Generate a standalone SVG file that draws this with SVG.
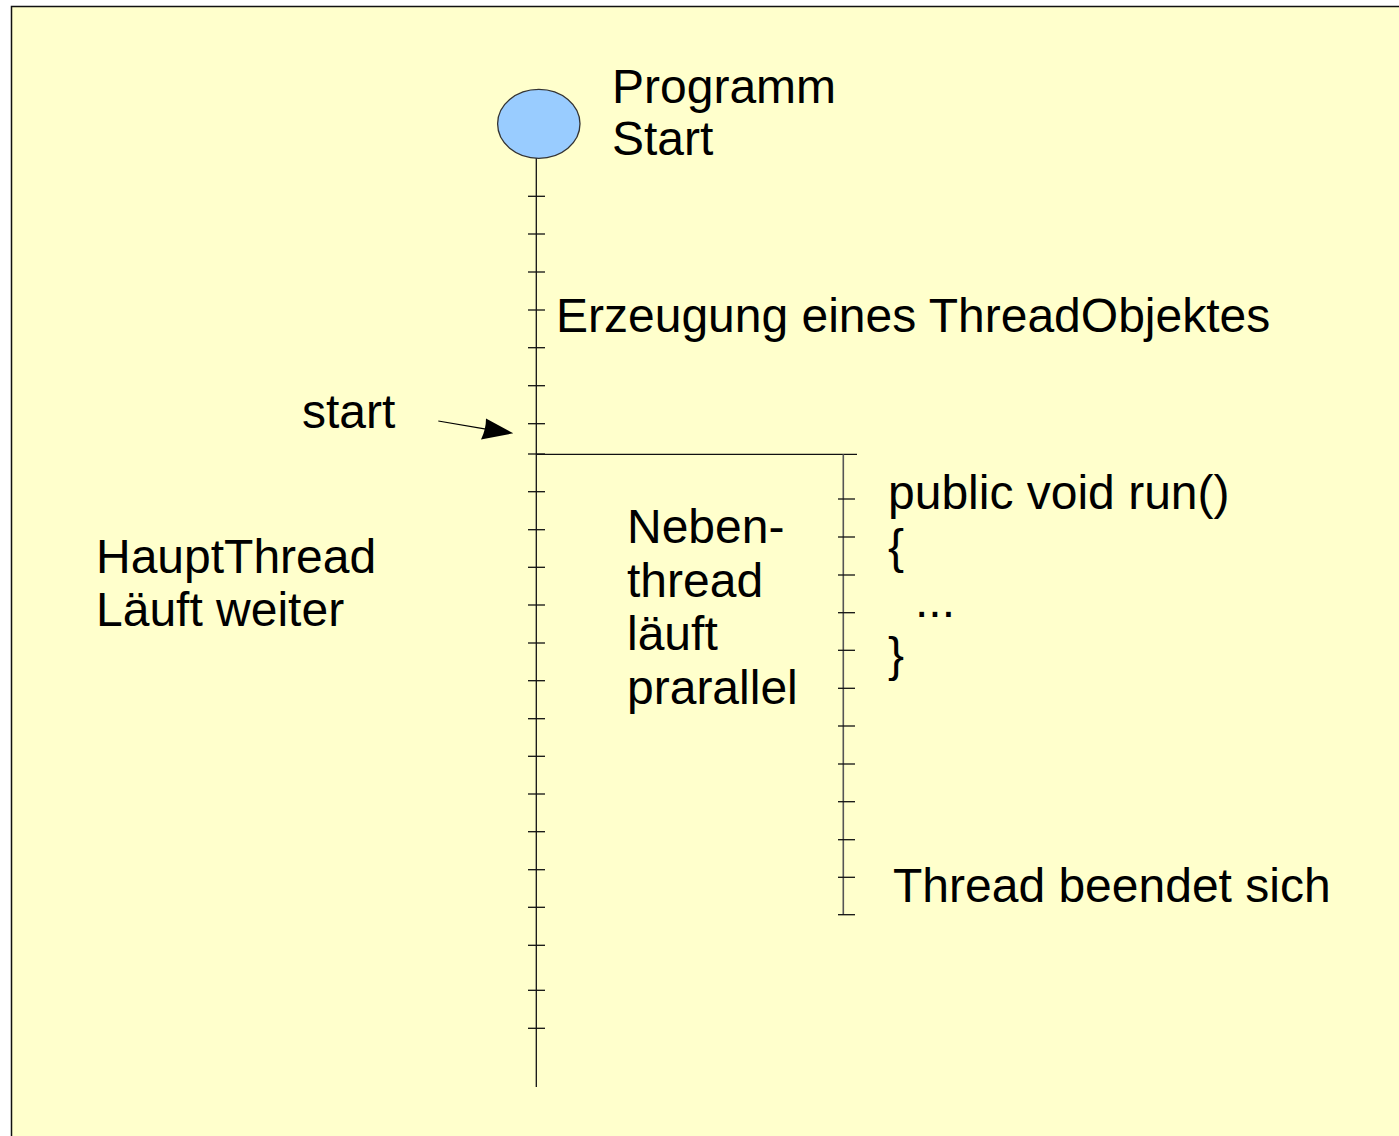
<svg xmlns="http://www.w3.org/2000/svg" width="1399" height="1136" viewBox="0 0 1399 1136">
<defs>
<style>
.t{font-family:"Liberation Sans",Arial,sans-serif;font-size:48px;fill:#000}
.ln{stroke:#111;stroke-width:1.3;fill:none}
.tk{stroke:#111;stroke-width:1.3}
.br{stroke:#555;stroke-width:1.6;fill:none}
</style>
</defs>
<rect x="0" y="0" width="1399" height="1136" fill="#ffffff"/>
<rect id="page" x="11.5" y="6.5" width="1400" height="1140" fill="#ffffcc" stroke="#111" stroke-width="1.5"/>
<g id="connectors">
<line class="ln" x1="536.3" y1="158" x2="536.3" y2="1087"/>
<g class="tk">
<line x1="528" y1="196.3" x2="545" y2="196.3"/>
<line x1="528" y1="234" x2="545" y2="234"/>
<line x1="528" y1="272" x2="545" y2="272"/>
<line x1="528" y1="310" x2="545" y2="310"/>
<line x1="528" y1="347.7" x2="545" y2="347.7"/>
<line x1="528" y1="385.7" x2="545" y2="385.7"/>
<line x1="528" y1="423.7" x2="545" y2="423.7"/>
<line x1="528" y1="454" x2="545" y2="454"/>
<line x1="528" y1="491.7" x2="545" y2="491.7"/>
<line x1="528" y1="529.7" x2="545" y2="529.7"/>
<line x1="528" y1="567.3" x2="545" y2="567.3"/>
<line x1="528" y1="605" x2="545" y2="605"/>
<line x1="528" y1="643" x2="545" y2="643"/>
<line x1="528" y1="680.7" x2="545" y2="680.7"/>
<line x1="528" y1="718.7" x2="545" y2="718.7"/>
<line x1="528" y1="756.3" x2="545" y2="756.3"/>
<line x1="528" y1="794" x2="545" y2="794"/>
<line x1="528" y1="831.7" x2="545" y2="831.7"/>
<line x1="528" y1="869.7" x2="545" y2="869.7"/>
<line x1="528" y1="907.3" x2="545" y2="907.3"/>
<line x1="528" y1="945.3" x2="545" y2="945.3"/>
<line x1="528" y1="990.3" x2="545" y2="990.3"/>
<line x1="528" y1="1028.3" x2="545" y2="1028.3"/>
</g>
<line class="ln" x1="536.3" y1="454.3" x2="857" y2="454.3"/>
<line class="br" x1="843.3" y1="454.3" x2="843.3" y2="915"/>
<g class="tk">
<line x1="838" y1="499" x2="855" y2="499"/>
<line x1="838" y1="537" x2="855" y2="537"/>
<line x1="838" y1="575" x2="855" y2="575"/>
<line x1="838" y1="612.7" x2="855" y2="612.7"/>
<line x1="838" y1="650.3" x2="855" y2="650.3"/>
<line x1="838" y1="688.3" x2="855" y2="688.3"/>
<line x1="838" y1="726" x2="855" y2="726"/>
<line x1="838" y1="764" x2="855" y2="764"/>
<line x1="838" y1="801.7" x2="855" y2="801.7"/>
<line x1="838" y1="839.7" x2="855" y2="839.7"/>
<line x1="838" y1="877.3" x2="855" y2="877.3"/>
<line x1="838" y1="914.7" x2="855" y2="914.7"/>
</g>
<g id="start-arrow">
<line x1="438.3" y1="421" x2="486" y2="429.2" stroke="#000" stroke-width="1.2"/>
<path d="M513.3,433.3 L481,439.5 Q486,429.5 486,418.5 Z" fill="#000"/>
</g>
</g>
<g id="node-start">
<ellipse cx="538.8" cy="123.8" rx="41.2" ry="34.5" fill="#99ccff" stroke="#333" stroke-width="1.3"/>
<text class="t" x="612" y="103">Programm</text>
<text class="t" x="612" y="155">Start</text>
</g>
<g id="label-erzeugung">
<text class="t" x="556" y="332">Erzeugung eines ThreadObjektes</text>
</g>
<g id="label-start">
<text class="t" x="302" y="428">start</text>
</g>
<g id="label-haupt">
<text class="t" x="96" y="573">HauptThread</text>
<text class="t" x="96" y="626">Läuft weiter</text>
</g>
<g id="label-neben">
<text class="t" x="627" y="543">Neben-</text>
<text class="t" x="627" y="596.5">thread</text>
<text class="t" x="627" y="650">läuft</text>
<text class="t" x="627" y="703.5">prarallel</text>
</g>
<g id="label-run">
<text class="t" x="888" y="509">public void run()</text>
<text class="t" x="888" y="563">{</text>
<text class="t" x="915" y="617">...</text>
<text class="t" x="888" y="671">}</text>
</g>
<g id="label-end">
<text class="t" x="893" y="902">Thread beendet sich</text>
</g>
</svg>
